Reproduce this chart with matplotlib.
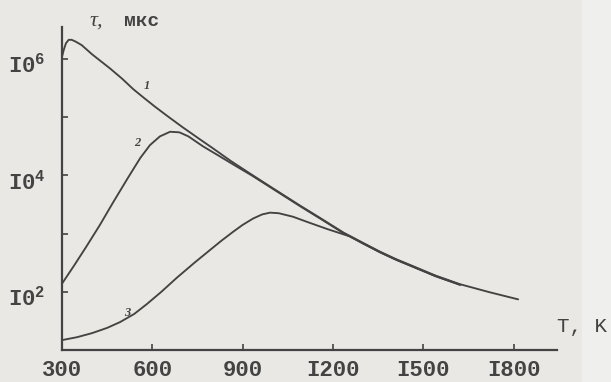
import numpy as np
import matplotlib
matplotlib.use('Agg')
import matplotlib.pyplot as plt
from matplotlib.patches import Rectangle
from matplotlib.transforms import ScaledTranslation

# ------------------------------------------------------------
# Data: T in K, log10(tau / mks)
# ------------------------------------------------------------
T1 = [300, 306, 313, 322, 332, 345, 365, 400, 459, 500, 537, 575, 609, 650,
      700, 758, 800, 860, 925, 1000, 1091, 1160, 1234, 1300, 1356, 1410,
      1466, 1540, 1622, 1722, 1815]
lg1 = [6.04, 6.16, 6.27, 6.33, 6.33, 6.30, 6.24, 6.08, 5.84, 5.66, 5.48, 5.32,
       5.18, 5.02, 4.83, 4.62, 4.47, 4.25, 4.03, 3.78, 3.48, 3.26, 3.02, 2.84,
       2.69, 2.56, 2.44, 2.28, 2.13, 1.99, 1.87]

T2 = [300, 340, 380, 426, 469, 518, 560, 592, 625, 659, 690, 720, 768, 820,
      868, 930, 1000, 1091, 1160, 1234, 1300, 1356, 1410, 1466, 1540, 1622]
lg2 = [2.14, 2.45, 2.77, 3.15, 3.53, 3.95, 4.30, 4.52, 4.67, 4.75, 4.74, 4.67,
       4.50, 4.34, 4.19, 4.00, 3.77, 3.47, 3.25, 3.01, 2.83, 2.68, 2.55, 2.43,
       2.27, 2.12]

T3 = [300, 350, 400, 450, 493, 540, 582, 630, 681, 740, 792, 830, 868, 900,
      935, 965, 991, 1020, 1067, 1120, 1180, 1257, 1300, 1356, 1410, 1466,
      1540, 1622]
lg3 = [1.17, 1.22, 1.29, 1.38, 1.48, 1.62, 1.79, 2.00, 2.24, 2.50, 2.72, 2.88,
       3.03, 3.15, 3.26, 3.33, 3.36, 3.35, 3.29, 3.19, 3.08, 2.95, 2.83, 2.68,
       2.55, 2.43, 2.27, 2.12]

x_ticks = [300, 600, 900, 1200, 1500, 1800]
x_tick_labels = ['300', '600', '900', 'I200', 'I500', 'I800']
y_ticks = [1e2, 1e3, 1e4, 1e5, 1e6]
y_tick_labels = ['I0$^{2}$', '', 'I0$^{4}$', '', 'I0$^{6}$']

# ------------------------------------------------------------
paper = '#e9e8e4'
ink = '#434343'
tfont = 'Liberation Mono'

plt.rcParams['mathtext.fontset'] = 'custom'
plt.rcParams['mathtext.rm'] = 'Liberation Mono:bold'
plt.rcParams['mathtext.it'] = 'Liberation Mono:bold'

fig = plt.figure(figsize=(6.11, 3.82), dpi=100)
fig.patch.set_facecolor(paper)
# lighter scan margin on the right
fig.patches.append(Rectangle((0.953, 0), 0.047, 1, transform=fig.transFigure,
                             facecolor='#efefed', edgecolor='none', zorder=0))

ax = fig.add_axes([0.1015, 0.0838, 0.8101, 0.8455])
ax.set_facecolor('none')

for T, lg in [(T1, lg1), (T2, lg2), (T3, lg3)]:
    ax.plot(T, 10 ** np.array(lg), color=ink, lw=1.35,
            solid_capstyle='round', solid_joinstyle='round')

ax.set_yscale('log')
ax.set_xlim(300, 1944)
ax.set_ylim(10 ** 1.0, 10 ** 6.55)

for s in ['top', 'right']:
    ax.spines[s].set_visible(False)
for s in ['left', 'bottom']:
    ax.spines[s].set_color(ink)
    ax.spines[s].set_linewidth(1.6)

ax.set_xticks(x_ticks)
ax.set_xticklabels(x_tick_labels)
ax.set_yticks(y_ticks)
ax.set_yticklabels(y_tick_labels)
ax.yaxis.set_minor_locator(matplotlib.ticker.NullLocator())
ax.tick_params(axis='both', direction='in', length=4, width=1.2, color=ink)
ax.tick_params(axis='x', pad=7)
ax.tick_params(axis='y', pad=12)
for lab in ax.get_xticklabels():
    lab.set_fontfamily(tfont)
    lab.set_fontweight('bold')
    lab.set_fontsize(16)
    lab.set_color(ink)
shift_down = ScaledTranslation(0, -5 / 72, fig.dpi_scale_trans)
for lab in ax.get_yticklabels():
    lab.set_fontfamily(tfont)
    lab.set_fontweight('bold')
    lab.set_fontsize(16)
    lab.set_color(ink)
    lab.set_verticalalignment('center')
    lab.set_transform(lab.get_transform() + shift_down)

# curve numbers
num_style = dict(fontsize=9, color=ink, style='italic',
                 fontfamily='Liberation Serif', fontweight='bold')
ax.text(572, 10 ** 5.48, '1', **num_style)
ax.text(540, 10 ** 4.5, '2', **num_style)
ax.text(505, 10 ** 1.58, '3', **num_style)

# axis titles
fig.text(0.147, 0.945, '\u03c4,', fontsize=16, color=ink, style='italic',
         fontfamily='Liberation Serif', va='center')
fig.text(0.203, 0.943, 'мкс', fontsize=14, color=ink, fontweight='bold',
         fontfamily='Liberation Mono', va='center')
fig.text(0.912, 0.145, 'T, K', fontsize=15, color=ink,
         fontfamily='Liberation Mono', va='center')

fig.savefig('out.png', dpi=100, facecolor=paper)
